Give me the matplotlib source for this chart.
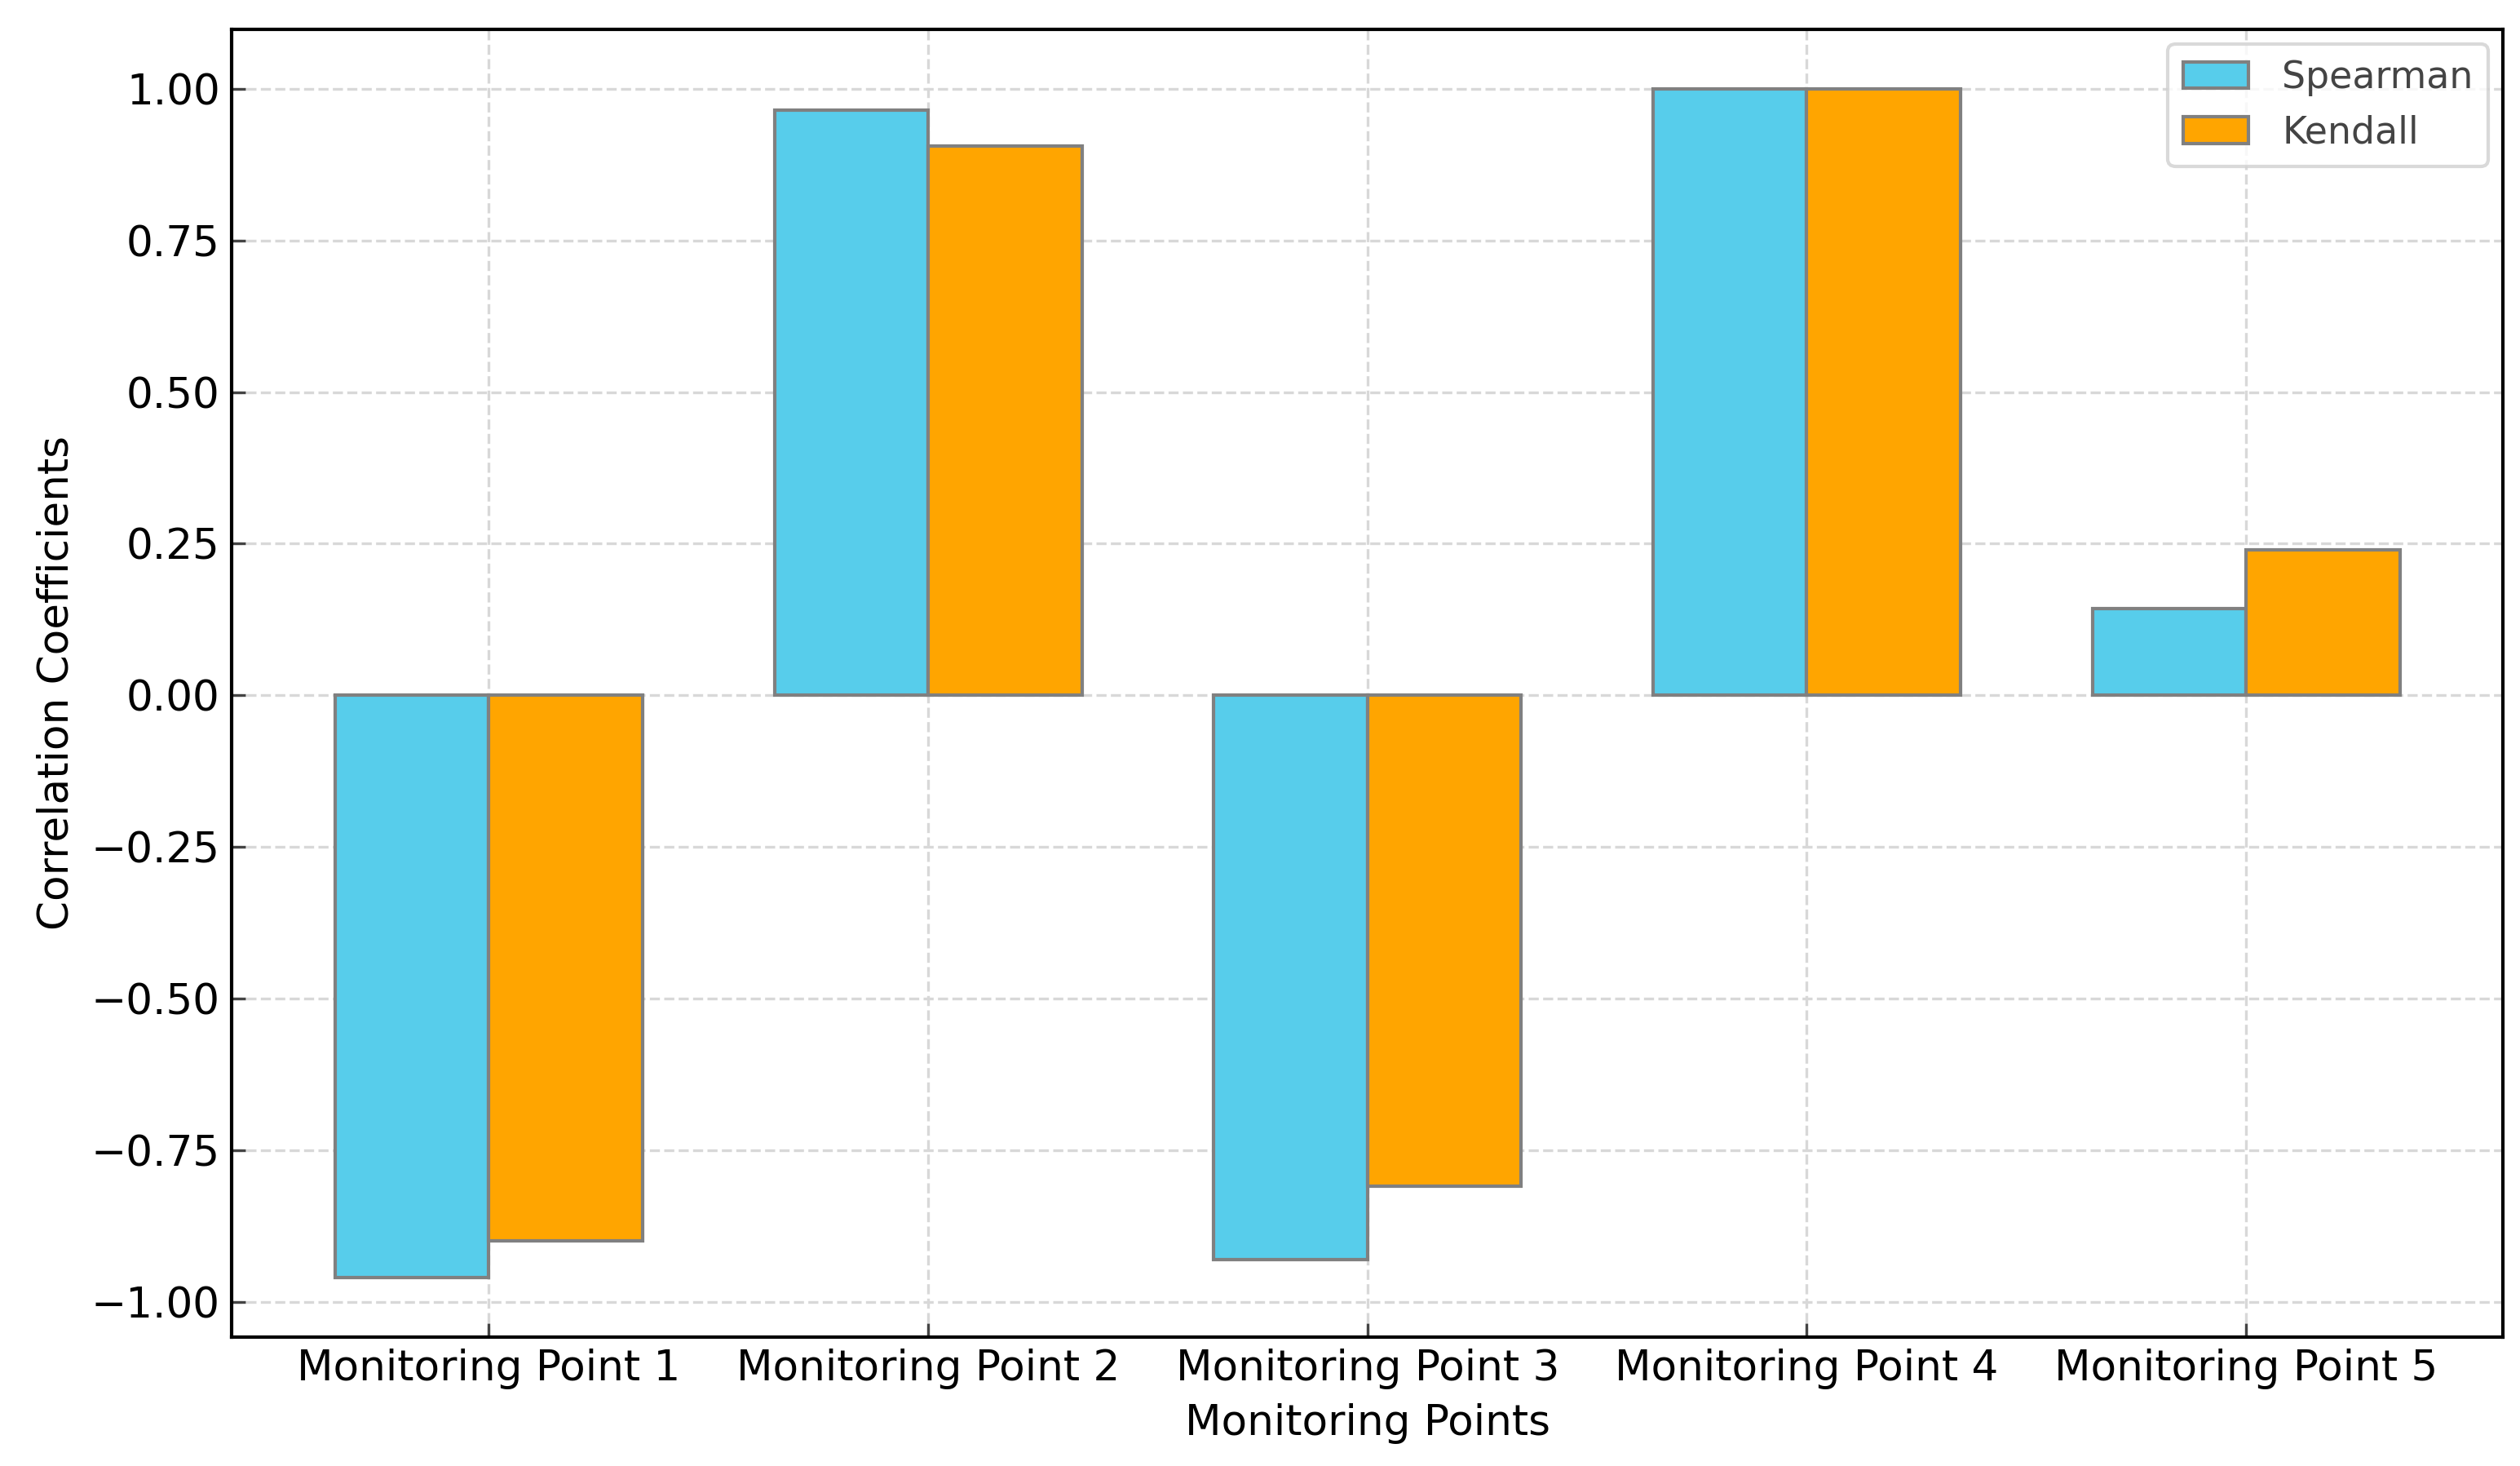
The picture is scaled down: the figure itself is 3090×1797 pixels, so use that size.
import matplotlib.pyplot as plt
import numpy as np

points = ['Monitoring Point 1', 'Monitoring Point 2', 'Monitoring Point 3',
          'Monitoring Point 4', 'Monitoring Point 5']
spearman = [-0.96, 0.965, -0.93, 1.0, 0.143]
kendall = [-0.90, 0.905, -0.81, 1.0, 0.24]

plt.rcParams['font.family'] = 'DejaVu Sans'
plt.rcParams['font.size'] = 12.4

fig, ax = plt.subplots(figsize=(10.303, 5.99), dpi=300)
x = np.arange(len(points))
w = 0.35

ax.bar(x - w/2, spearman, w, label='Spearman', color='#57CDEB', edgecolor='grey', zorder=3)
ax.bar(x + w/2, kendall, w, label='Kendall', color='#FFA500', edgecolor='grey', zorder=3)

ax.set_xticks(x)
ax.set_xticklabels(points)
ax.set_xlabel('Monitoring Points', labelpad=4)
ax.set_ylabel('Correlation Coefficients')
ax.set_yticks([-1.0, -0.75, -0.5, -0.25, 0.0, 0.25, 0.5, 0.75, 1.0])
ax.tick_params(direction='in', color='#444444', length=4)
ax.grid(True, linestyle='--', color='#d8d8d8', linewidth=0.8, zorder=0)
for s in ax.spines.values():
    s.set_linewidth(1.0)

leg = ax.legend(loc='upper right', fontsize=11, edgecolor='#d0d0d0',
                handlelength=1.75, handletextpad=0.9, borderaxespad=0.4)
for t in leg.get_texts():
    t.set_color('#444444')

fig.subplots_adjust(left=0.092, right=0.993, top=0.980, bottom=0.088)
fig.savefig('out.png', dpi=300)
